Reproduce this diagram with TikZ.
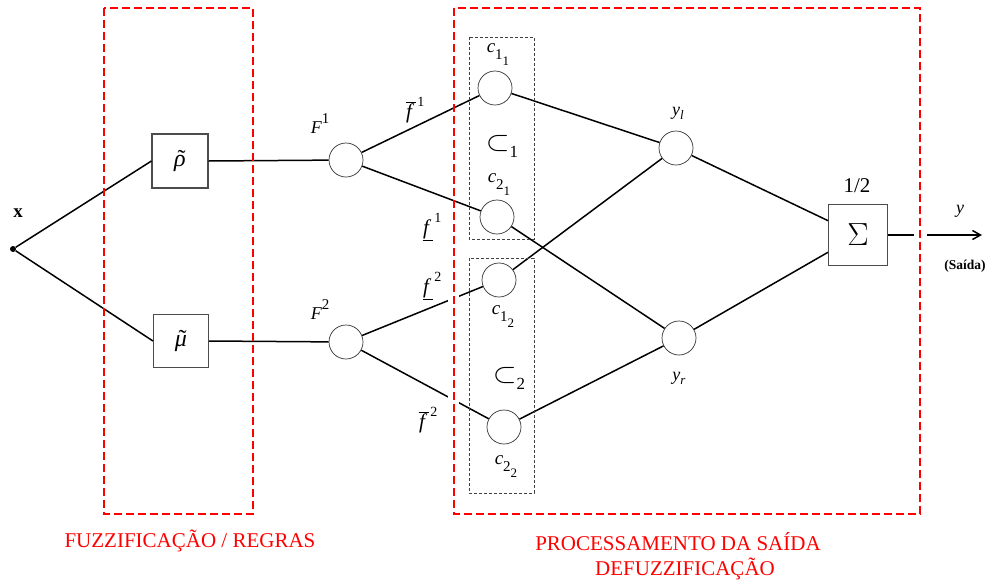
\RequirePackage{fix-cm}
\documentclass[tikz,border=0pt]{standalone}
\usepackage{fontspec}
\setmainfont{Liberation Serif}
\usepackage{graphicx}
\usetikzlibrary{arrows.meta,calc}
\tikzset{
  neuron/.style={circle,draw=black!80,line width=0.7pt,minimum size=34pt,inner sep=0pt},
  opbox/.style={rectangle,draw=black!70,line width=1.1pt,inner sep=0pt},
  conn/.style={draw=black,line width=1.5pt},
  region/.style={draw=red,line width=1.8pt,dash pattern=on 8pt off 4pt},
  group/.style={draw=black!75,line width=0.7pt,dash pattern=on 3pt off 2pt},
  lbl/.style={inner sep=0pt,font=\fontsize{18}{21}\selectfont},
  flbl/.style={inner sep=0pt,font=\fontsize{21}{24}\selectfont},
  clbl/.style={inner sep=0pt,font=\fontsize{19}{22}\selectfont},
  redlbl/.style={inner sep=0pt,text=red,font=\fontsize{21}{25}\selectfont,align=center}
}
\newcommand{\wsub}[1]{\scalebox{1.7}[1.55]{$\subset$}\raisebox{-7pt}{\fontsize{17}{18}\selectfont #1}}
\newcommand{\tld}[1]{\setbox0\hbox{\itshape #1}\hbox{\rlap{\hbox to\wd0{\hss\kern3pt\char"02DC\hss}}\box0}}
\newcommand{\supF}[1]{\raisebox{10pt}{\fontsize{15}{16}\selectfont #1}}
\newcommand{\supf}[1]{\kern1.5pt\raisebox{12pt}{\fontsize{14}{15}\selectfont #1}}
\newcommand{\fo}{$\overline{\hbox{\kern0.5pt\itshape f\kern4pt}}$}
\newcommand{\fu}{$\underline{\hbox{\kern0.5pt\itshape f\kern4pt}}$}
\newcommand{\cl}[2]{{\itshape c}\raisebox{-7pt}{\fontsize{15}{16}\selectfont #1\raisebox{-6pt}{\fontsize{13}{14}\selectfont #2}}}
\begin{document}
\begin{tikzpicture}[x=1pt,y=-1pt]
\useasboundingbox (0,0) rectangle (988,582);
% nodes
\node[circle,fill=black,inner sep=0pt,minimum size=6pt] (xin) at (13,249) {};
\node[opbox,minimum width=56pt,minimum height=54pt] (rho) at (180,161) {\fontsize{24}{26}\selectfont\tld{ρ}};
\node[opbox,minimum width=55pt,minimum height=53pt] (mu) at (181,341) {\fontsize{24}{26}\selectfont\tld{μ}};
\node[neuron] (F1) at (346,160) {};
\node[neuron] (F2) at (346,342) {};
\node[neuron] (c11) at (495,88) {};
\node[neuron] (c21) at (497,217) {};
\node[neuron] (c12) at (499,280) {};
\node[neuron] (c22) at (504,427) {};
\node[neuron] (yl) at (676,148) {};
\node[neuron] (yr) at (679,338) {};
\node[opbox,minimum width=59pt,minimum height=61pt] (sig) at (858,235) {\fontsize{32}{34}\selectfont$\Sigma$};
\coordinate (yout) at (982,235);
% connectors
\draw[conn] (xin) -- (rho.west);
\draw[conn] (xin) -- (mu.west);
\draw[conn] (rho.east) -- (F1);
\draw[conn] (mu.east) -- (F2);
\draw[conn] (F1) -- (c11);
\draw[conn] (F1) -- (c21);
\draw[conn] (F2) -- (c12);
\draw[conn] (F2) -- (c22);
\draw[conn] (c11) -- (yl);
\draw[conn] (c12) -- (yl);
\draw[conn] (c21) -- (yr);
\draw[conn] (c22) -- (yr);
\draw[conn] (yl) -- (sig);
\draw[conn] (yr) -- (sig);
\draw[conn,-{Straight Barb[length=8pt,width=9pt]}] (sig.east) -- (yout);
% gaps around the red line
\fill[white] (448,292) rectangle (459,308);
\fill[white] (448,392) rectangle (459,410);
\fill[white] (914,230) rectangle (927,240);
% regions
\draw[region] (104,8) rectangle (253,514);
\draw[region] (454,8) rectangle (920,514);
\draw[group] (469,37) rectangle (534,239);
\draw[group] (469,258) rectangle (534,493);
% labels
\node[inner sep=0pt,font=\fontsize{19}{21}\selectfont\bfseries] (xl) at (18,213) {x};
\node[lbl] (lF1) at (320,124) {{\itshape F}\supF{1}};
\node[lbl] (lF2) at (320,310) {{\itshape F}\supF{2}};
\node[flbl] (lf1o) at (415,110) {\fo\supf{1}};
\node[flbl] (lf1u) at (432,227) {\fu\supf{1}};
\node[flbl] (lf2u) at (432,286) {\fu\supf{2}};
\node[flbl] (lf2o) at (428,420) {\fo\supf{2}};
\node[clbl] (lc11) at (498,55) {\cl{1}{1}};
\node[clbl] (lc21) at (499,185) {\cl{2}{1}};
\node[clbl] (lc12) at (503,317) {\cl{1}{2}};
\node[clbl] (lc22) at (506,467) {\cl{2}{2}};
\node[inner sep=0pt,font=\fontsize{18}{21}\selectfont] (s1) at (502,146) {\wsub{1}};
\node[inner sep=0pt,font=\fontsize{18}{21}\selectfont] (s2) at (509,378) {\wsub{2}};
\node[lbl] (lyl) at (678,113) {{\itshape y}\raisebox{-4pt}{\fontsize{13}{14}\selectfont\itshape l}};
\node[lbl] (lyr) at (679,378) {{\itshape y}\raisebox{-4pt}{\fontsize{13}{14}\selectfont\itshape r}};
\node[lbl,font=\fontsize{21}{23}\selectfont] (half) at (857,186) {1/2};
\node[lbl] (ly) at (960,211) {\itshape y};
\node[inner sep=0pt,font=\fontsize{13.5}{15}\selectfont\bfseries] (sai) at (965,266) {(Saída)};
\node[redlbl] (t1) at (190,541) {FUZZIFICAÇÃO / REGRAS};
\node[redlbl] (t2) at (678,542) {PROCESSAMENTO DA SAÍDA};
\node[redlbl] (t3) at (685,569) {DEFUZZIFICAÇÃO};
\end{tikzpicture}
\end{document}
